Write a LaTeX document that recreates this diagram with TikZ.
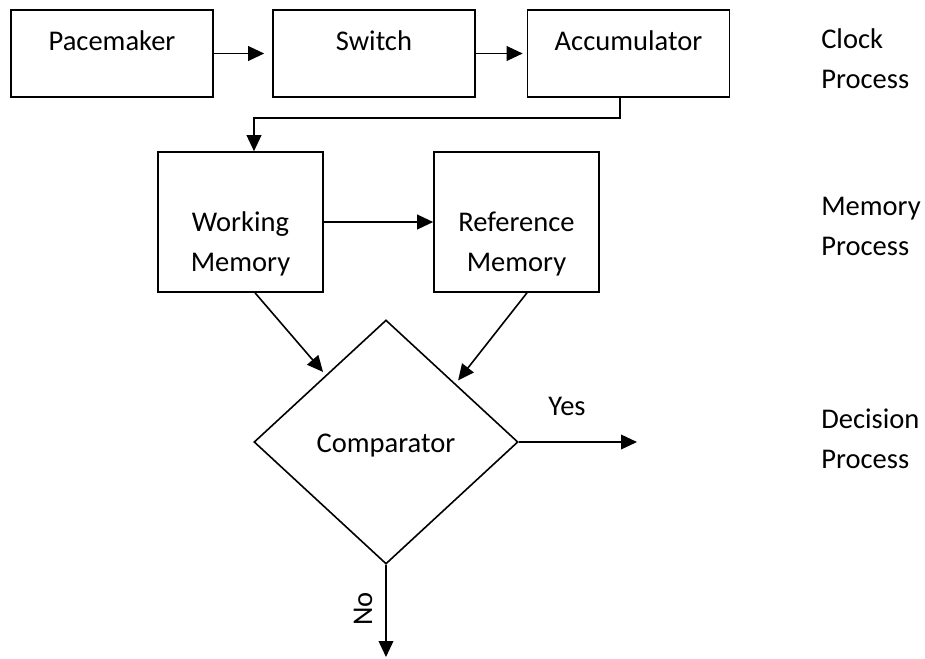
\documentclass[tikz,border=0pt]{standalone}
\usepackage{fontspec}
\setmainfont{Carlito}
\usetikzlibrary{arrows.meta,shapes.geometric}

\tikzset{
  box/.style={draw, line width=1.2pt, inner sep=0pt, align=center},
  topbox/.style={box, minimum width=151.5pt, minimum height=65.25pt,
                 text height=30pt, text depth=35.25pt},
  membox/.style={box, minimum width=123.75pt, minimum height=105pt,
                 text height=89.25pt, text depth=15.75pt},
  decide/.style={draw, diamond, line width=1.2pt, inner sep=0pt,
                 minimum width=198pt, minimum height=183pt,
                 text height=20pt, text depth=5pt},
  arr/.style={line width=1.2pt, -{Triangle[length=12pt,width=11pt]}},
  stage/.style={anchor=base west, align=left, inner sep=0pt}
}

\begin{document}
\begin{tikzpicture}[x=0.75pt, y=-0.75pt,
    every node/.append style={font=\fontsize{21.4pt}{30pt}\selectfont}]
  \useasboundingbox (0,0) rectangle (925,658);

  % clock stage
  \node[topbox] (pace)   at (112,53.5)   {Pacemaker};
  \node[topbox] (switch) at (374,53.5)   {Switch};
  \node[topbox] (acc)    at (628.5,53.5) {Accumulator};

  % memory stage
  \node[membox] (wm) at (240.5,222) {Working\\Memory};
  \node[membox] (rm) at (516.5,222) {Reference\\Memory};

  % decision stage
  \node[decide] (cmp) at (386,442) {Comparator};

  % free ends of the outputs
  \coordinate (yesend) at (637,442);
  \coordinate (noend)  at (386,657);

  % connectors
  \draw[arr, shorten >=6pt] (pace) -- (switch);
  \draw[arr, shorten >=3pt] (switch) -- (acc);
  \draw[arr] ([xshift=-6.375pt]acc.south) -- ++(0,20) -| ([xshift=10.125pt]wm.north);
  \draw[arr] (wm) -- (rm);
  \draw[arr, shorten >=3pt] ([xshift=10.875pt]wm.south) -- (cmp.132.5);
  \draw[arr, shorten >=3pt] ([xshift=7.875pt]rm.south) -- (cmp.40);
  \draw[arr] (cmp.east) -- (yesend);
  \draw[arr] (cmp.south) -- (noend);

  % branch labels
  \node[anchor=base, inner sep=0pt] (yes) at (567,415) {Yes};
  \node[rotate=90, inner sep=0pt] (no) at (363,609) {No};

  % stage captions (base anchor sits on the last line)
  \node[stage] (clockstage)    at (821,88)  {Clock\\Process};
  \node[stage] (memorystage)   at (821,255) {Memory\\Process};
  \node[stage] (decisionstage) at (821,468) {Decision\\Process};
\end{tikzpicture}
\end{document}
